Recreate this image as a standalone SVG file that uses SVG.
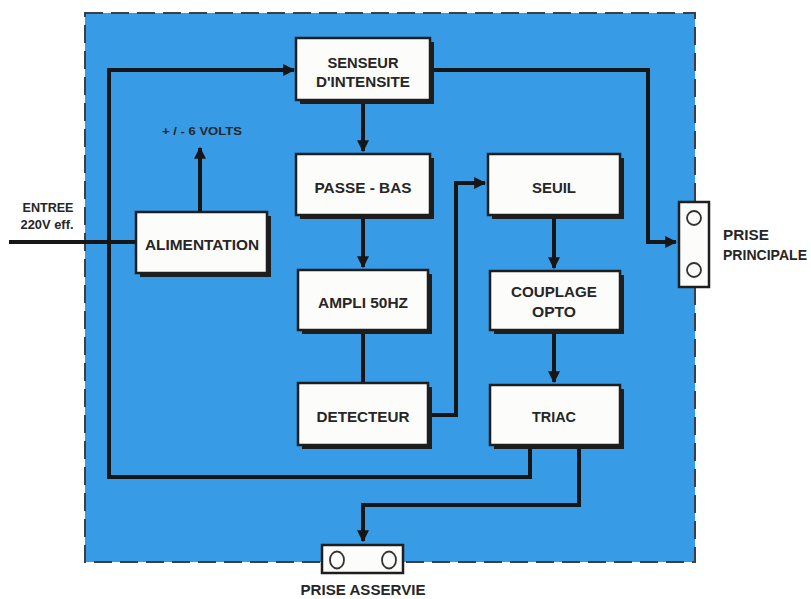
<svg xmlns="http://www.w3.org/2000/svg" width="811" height="599" viewBox="0 0 811 599">
<defs>
<style>
.bg{fill:#389be6;stroke:#3a3f48;stroke-width:2;stroke-dasharray:18 8}
.sh{fill:#1e1e1e}
.bx{fill:#fcfcfa;stroke:#1e1e1e;stroke-width:2.5}
.t{font-family:"Liberation Sans",Arial,sans-serif;font-weight:bold;font-size:15px;fill:#262626;text-anchor:middle}
.s{font-size:12px}
.v{font-size:10px}
.w{fill:none;stroke:#161616;stroke-width:4;stroke-linejoin:miter}
.pl{fill:#fcfcfa;stroke:#1e1e1e;stroke-width:2.5}
.c{fill:none;stroke:#333;stroke-width:1.8}
</style>
<marker id="a" viewBox="0 0 10 10" refX="9" refY="5" markerWidth="3" markerHeight="3" orient="auto" markerUnits="strokeWidth">
<path d="M0,0 L10,5 L0,10 z" fill="#161616"/>
</marker>
</defs>
<rect id="enclosure" class="bg" x="85" y="13" width="610" height="549"/>
<g id="connectors">
<path class="w" d="M530,447 V477 H109 V70 H294" marker-end="url(#a)"/>
<path class="w" d="M432,70 H648 V242 H676" marker-end="url(#a)"/>
<path class="w" d="M363,102 V151" marker-end="url(#a)"/>
<path class="w" d="M363,217 V267" marker-end="url(#a)"/>
<path class="w" d="M363,332 V383"/>
<path class="w" d="M430,415 H456 V183 H485" marker-end="url(#a)"/>
<path class="w" d="M554,217 V268" marker-end="url(#a)"/>
<path class="w" d="M554,332 V382" marker-end="url(#a)"/>
<path class="w" d="M579,447 V505 H363 V541" marker-end="url(#a)"/>
<path class="w" d="M200,212 V148" marker-end="url(#a)"/>
<path class="w" d="M9,242 H136"/>
</g>
<g id="senseur"><rect class="sh" x="300" y="42" width="134" height="62"/><rect class="bx" x="296" y="38" width="134" height="62"/>
<text class="t" x="363" y="68" textLength="71" lengthAdjust="spacingAndGlyphs">SENSEUR</text>
<text class="t" x="363" y="87" textLength="94" lengthAdjust="spacingAndGlyphs">D'INTENSITE</text></g>
<g id="passebas"><rect class="sh" x="300" y="158" width="134" height="61"/><rect class="bx" x="296" y="154" width="134" height="61"/>
<text class="t" x="363" y="193" textLength="97" lengthAdjust="spacingAndGlyphs">PASSE - BAS</text></g>
<g id="ampli"><rect class="sh" x="302" y="274" width="130" height="60"/><rect class="bx" x="298" y="270" width="130" height="60"/>
<text class="t" x="363" y="308" textLength="90" lengthAdjust="spacingAndGlyphs">AMPLI 50HZ</text></g>
<g id="detecteur"><rect class="sh" x="302" y="387" width="130" height="62"/><rect class="bx" x="298" y="383" width="130" height="62"/>
<text class="t" x="363" y="422" textLength="93" lengthAdjust="spacingAndGlyphs">DETECTEUR</text></g>
<g id="seuil"><rect class="sh" x="492" y="158" width="132" height="61"/><rect class="bx" x="488" y="154" width="132" height="61"/>
<text class="t" x="554" y="193" textLength="44" lengthAdjust="spacingAndGlyphs">SEUIL</text></g>
<g id="couplage"><rect class="sh" x="494" y="275" width="130" height="59"/><rect class="bx" x="490" y="271" width="130" height="59"/>
<text class="t" x="554" y="297" textLength="86" lengthAdjust="spacingAndGlyphs">COUPLAGE</text>
<text class="t" x="554" y="317" textLength="44" lengthAdjust="spacingAndGlyphs">OPTO</text></g>
<g id="triac"><rect class="sh" x="494" y="389" width="130" height="60"/><rect class="bx" x="490" y="385" width="130" height="60"/>
<text class="t" x="554" y="422" textLength="44" lengthAdjust="spacingAndGlyphs">TRIAC</text></g>
<g id="alimentation"><rect class="sh" x="140" y="216" width="131" height="61"/><rect class="bx" x="136" y="212" width="131" height="61"/>
<text class="t" x="202" y="250" textLength="114" lengthAdjust="spacingAndGlyphs">ALIMENTATION</text></g>
<g id="volts"><text class="t v" x="202" y="135" textLength="80" lengthAdjust="spacingAndGlyphs">+ / - 6 VOLTS</text></g>
<g id="entree"><text class="t s" x="48" y="212" textLength="51" lengthAdjust="spacingAndGlyphs">ENTREE</text>
<text class="t s" x="47" y="229" textLength="53" lengthAdjust="spacingAndGlyphs">220V eff.</text></g>
<g id="prise-principale"><rect class="pl" x="679" y="202" width="30" height="85"/>
<circle class="c" cx="694" cy="218" r="7"/><circle class="c" cx="694" cy="270" r="7"/>
<text class="t s" x="723" y="240" style="text-anchor:start;font-size:14px" textLength="46" lengthAdjust="spacingAndGlyphs">PRISE</text>
<text class="t s" x="723" y="260" style="text-anchor:start;font-size:14px" textLength="84" lengthAdjust="spacingAndGlyphs">PRINCIPALE</text></g>
<g id="prise-asservie"><rect class="pl" x="322" y="545" width="81" height="28"/>
<ellipse class="c" cx="337" cy="560" rx="7" ry="8.5"/><ellipse class="c" cx="389" cy="560" rx="7" ry="8.5"/>
<text class="t" x="363" y="595" style="font-size:14px" textLength="125" lengthAdjust="spacingAndGlyphs">PRISE ASSERVIE</text></g>
</svg>
